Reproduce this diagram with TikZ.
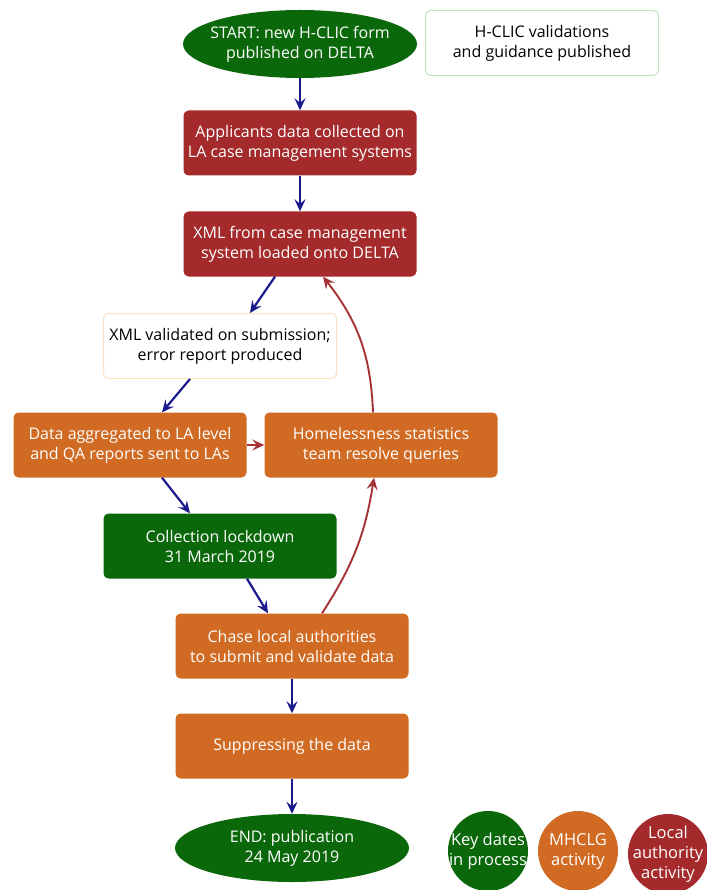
\documentclass[tikz,border=0pt]{standalone}
\usepackage{fontspec}
\setmainfont{Open Sans}
\usetikzlibrary{shapes.geometric,arrows.meta}

\definecolor{lared}{HTML}{A42A2C}
\definecolor{mhorange}{HTML}{D16A22}
\definecolor{keygreen}{HTML}{0A680A}
\definecolor{flownavy}{HTML}{1A1A8C}
\definecolor{loopred}{HTML}{A53336}

\begin{document}
\begin{tikzpicture}[x=1pt,y=-1pt,
	every node/.style={font=\fontsize{16}{20}\selectfont,align=center},
	box/.style={rectangle,rounded corners=5pt,minimum width=233pt,minimum height=65pt,inner sep=2pt},
	labox/.style={box,fill=lared,text=white},
	mhbox/.style={box,fill=mhorange,text=white},
	keybox/.style={box,fill=keygreen,text=white},
	keyoval/.style={ellipse,fill=keygreen,text=white,minimum width=234pt,minimum height=68pt,inner xsep=-22pt,inner ysep=-4pt},
	legend/.style={circle,minimum size=80pt,inner sep=-9pt,text=white,font=\fontsize{16.5}{20}\selectfont},
	flow/.style={-{Stealth[length=12pt,width=11pt,inset=4.5pt]},flownavy,line width=2.2pt},
	loop/.style={-{Stealth[length=12pt,width=11pt,inset=4.5pt]},loopred,line width=1.9pt}]
\useasboundingbox (0,0) rectangle (706,890);

% main column
\node[keyoval] (start) at (300,44) {START: new H-CLIC form\\published on DELTA};
\node[box,draw=green!60!black!25,fill=white,line width=1pt] (guide) at (542,43) {H-CLIC validations\\and guidance published};
\node[labox] (collect) at (300,143) {Applicants data collected on\\LA case management systems};
\node[labox] (xml) at (300,244) {XML from case management\\system loaded onto DELTA};
\node[box,draw=orange!25,fill=white,line width=1pt] (valid) at (220,346) {XML validated on submission;\\error report produced};
\node[mhbox] (aggr) at (130,445) {Data aggregated to LA level\\and QA reports sent to LAs};
\node[mhbox] (resolve) at (381,445) {Homelessness statistics\\team resolve queries};
\node[keybox] (lock) at (220,546) {Collection lockdown\\31 March 2019};
\node[mhbox] (chase) at (292,646) {Chase local authorities\\to submit and validate data};
\node[mhbox] (suppr) at (292,746) {Suppressing the data};
\node[keyoval] (finish) at (292,848) {END: publication\\24 May 2019};

% legend
\node[legend,fill=keygreen] (lgreen) at (488,851) {Key dates\\in process};
\node[legend,fill=mhorange] (lorange) at (578,851) {MHCLG\\activity};
\node[legend,fill=lared] (lred) at (668,854) {Local\\authority\\activity};

% arrows
\draw[flow] (start) -- (collect);
\draw[flow] (collect) -- (xml);
\draw[flow] ([xshift=-25pt]xml.south) -- ([xshift=30pt]valid.north);
\draw[flow] ([xshift=-30pt]valid.south) -- ([xshift=32pt]aggr.north);
\draw[flow] ([xshift=32pt]aggr.south) -- ([xshift=-30pt]lock.north);
\draw[flow] ([xshift=27pt]lock.south) -- ([xshift=-24pt]chase.north);
\draw[flow] (chase) -- (suppr);
\draw[flow] (suppr) -- (finish);

\draw[loop] (aggr) -- (resolve);
\draw[loop] ([xshift=-8pt]resolve.north) to[bend right=18] ([xshift=23pt]xml.south);
\draw[loop] ([xshift=30pt]chase.north) to[bend right=12] ([xshift=-7pt]resolve.south);

\end{tikzpicture}
\end{document}
